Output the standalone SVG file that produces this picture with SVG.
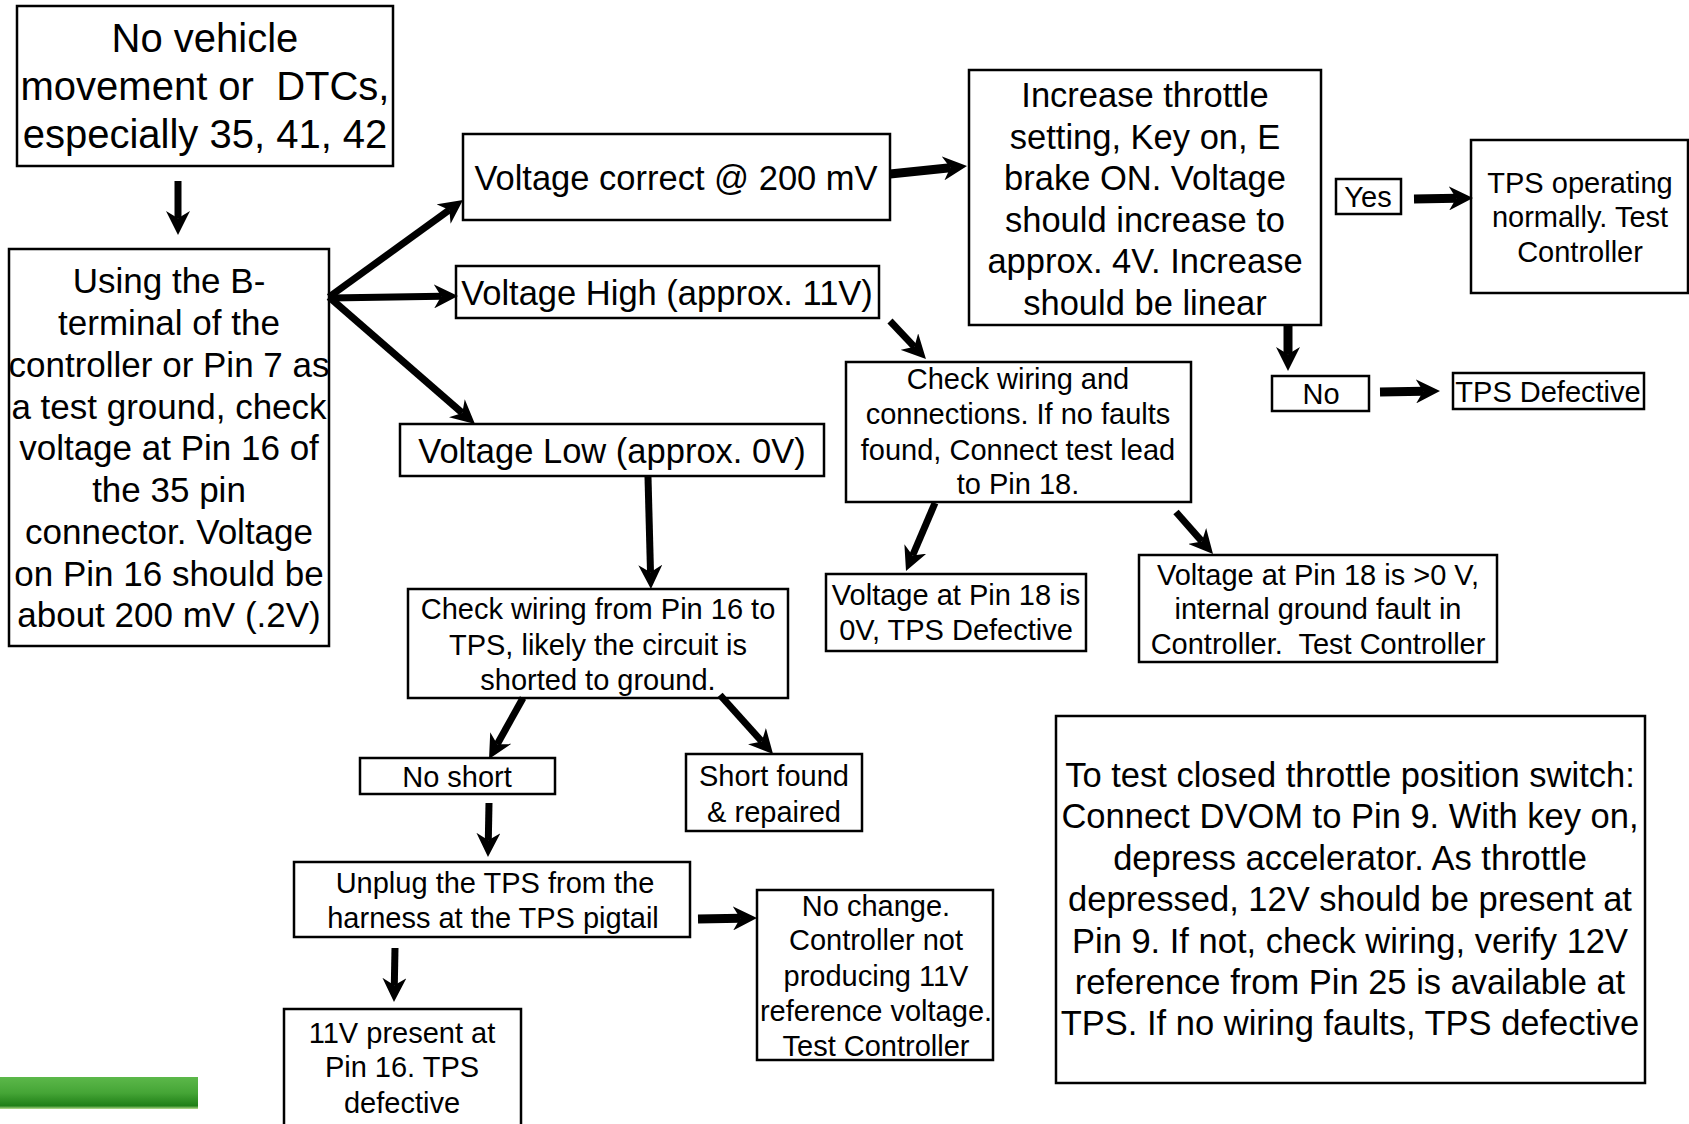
<svg xmlns="http://www.w3.org/2000/svg" width="1689" height="1124" viewBox="0 0 1689 1124">
<defs>
<style>
.box{fill:#fff;stroke:#000;stroke-width:2.5}
text{font-family:"Liberation Sans",Arial,sans-serif;fill:#000;text-anchor:middle;white-space:pre}
.f40{font-size:40px}.f35{font-size:35px}.f34{font-size:34.5px}.f29{font-size:29px}
.con line{stroke:#000;stroke-width:7;marker-end:url(#ah)}
.con line.thick{stroke-width:9}
</style>
<marker id="ah" viewBox="0 0 10 10" refX="3" refY="5" markerWidth="24" markerHeight="24" markerUnits="userSpaceOnUse" orient="auto">
<path d="M0,0 L10,5 L0,10 L3,5 z" fill="#000"/>
</marker>
<linearGradient id="grn" x1="0" y1="0" x2="0" y2="1">
<stop offset="0" stop-color="#5cb84a"/>
<stop offset="0.5" stop-color="#45a536"/>
<stop offset="0.9" stop-color="#1f7f17"/>
<stop offset="1" stop-color="#b8dd90"/>
</linearGradient>
</defs>
<rect width="1689" height="1124" fill="#fff"/>
<rect x="0" y="1077" width="198" height="32" fill="url(#grn)"/>

<g id="n-start"><rect class="box" x="17" y="6" width="376" height="160"/>
<text class="f40"><tspan x="205" y="52">No vehicle</tspan><tspan x="205" y="100">movement or  DTCs,</tspan><tspan x="205" y="148">especially 35, 41, 42</tspan></text></g>

<g id="n-using"><rect class="box" x="9" y="249" width="320" height="397"/>
<text class="f35"><tspan x="169" y="293">Using the B-</tspan><tspan x="169" y="335">terminal of the</tspan><tspan x="169" y="377">controller or Pin 7 as</tspan><tspan x="169" y="419">a test ground, check</tspan><tspan x="169" y="460">voltage at Pin 16 of</tspan><tspan x="169" y="502">the 35 pin</tspan><tspan x="169" y="544">connector. Voltage</tspan><tspan x="169" y="586">on Pin 16 should be</tspan><tspan x="169" y="627">about 200 mV (.2V)</tspan></text></g>

<g id="n-correct"><rect class="box" x="463" y="134" width="427" height="86"/>
<text class="f34" x="676" y="190">Voltage correct @ 200 mV</text></g>

<g id="n-high"><rect class="box" x="456" y="266" width="423" height="52"/>
<text class="f34" x="667" y="305">Voltage High (approx. 11V)</text></g>

<g id="n-low"><rect class="box" x="400" y="424" width="424" height="52"/>
<text class="f34" x="612" y="463">Voltage Low (approx. 0V)</text></g>

<g id="n-increase"><rect class="box" x="969" y="70" width="352" height="255"/>
<text class="f34"><tspan x="1145" y="107">Increase throttle</tspan><tspan x="1145" y="149">setting, Key on, E</tspan><tspan x="1145" y="190">brake ON. Voltage</tspan><tspan x="1145" y="232">should increase to</tspan><tspan x="1145" y="273">approx. 4V. Increase</tspan><tspan x="1145" y="315">should be linear</tspan></text></g>

<g id="n-yes"><rect class="box" x="1336" y="179" width="65" height="35"/>
<text class="f29" x="1368" y="207">Yes</text></g>

<g id="n-tpsok"><rect class="box" x="1471" y="140" width="217" height="153"/>
<text class="f29"><tspan x="1580" y="193">TPS operating</tspan><tspan x="1580" y="227">normally. Test</tspan><tspan x="1580" y="262">Controller</tspan></text></g>

<g id="n-no"><rect class="box" x="1272" y="376" width="97" height="35"/>
<text class="f29" x="1321" y="404">No</text></g>

<g id="n-tpsdef"><rect class="box" x="1453" y="373" width="191" height="36"/>
<text class="f29" x="1548" y="402">TPS Defective</text></g>

<g id="n-checkwiring"><rect class="box" x="846" y="362" width="345" height="140"/>
<text class="f29"><tspan x="1018" y="389">Check wiring and</tspan><tspan x="1018" y="424">connections. If no faults</tspan><tspan x="1018" y="460">found, Connect test lead</tspan><tspan x="1018" y="494">to Pin 18.</tspan></text></g>

<g id="n-pin18zero"><rect class="box" x="826" y="574" width="260" height="77"/>
<text class="f29"><tspan x="956" y="605">Voltage at Pin 18 is</tspan><tspan x="956" y="640">0V, TPS Defective</tspan></text></g>

<g id="n-pin18pos"><rect class="box" x="1139" y="555" width="358" height="107"/>
<text class="f29"><tspan x="1318" y="585">Voltage at Pin 18 is &gt;0 V,</tspan><tspan x="1318" y="619">internal ground fault in</tspan><tspan x="1318" y="654">Controller.  Test Controller</tspan></text></g>

<g id="n-checkpin16"><rect class="box" x="408" y="589" width="380" height="109"/>
<text class="f29"><tspan x="598" y="619">Check wiring from Pin 16 to</tspan><tspan x="598" y="655">TPS, likely the circuit is</tspan><tspan x="598" y="690">shorted to ground.</tspan></text></g>

<g id="n-noshort"><rect class="box" x="360" y="758" width="195" height="36"/>
<text class="f29" x="457" y="787">No short</text></g>

<g id="n-shortfound"><rect class="box" x="686" y="754" width="176" height="77"/>
<text class="f29"><tspan x="774" y="786">Short found</tspan><tspan x="774" y="822">&amp; repaired</tspan></text></g>

<g id="n-unplug"><rect class="box" x="294" y="862" width="396" height="75"/>
<text class="f29"><tspan x="495" y="893">Unplug the TPS from the</tspan><tspan x="493" y="928">harness at the TPS pigtail</tspan></text></g>

<g id="n-nochange"><rect class="box" x="757" y="890" width="236" height="170"/>
<text class="f29"><tspan x="876" y="916">No change.</tspan><tspan x="876" y="950">Controller not</tspan><tspan x="876" y="986">producing 11V</tspan><tspan x="876" y="1021">reference voltage.</tspan><tspan x="876" y="1056">Test Controller</tspan></text></g>

<g id="n-11v"><rect class="box" x="284" y="1009" width="237" height="130"/>
<text class="f29"><tspan x="402" y="1043">11V present at</tspan><tspan x="402" y="1077">Pin 16. TPS</tspan><tspan x="402" y="1113">defective</tspan></text></g>

<g id="n-closedthrottle"><rect class="box" x="1056" y="716" width="589" height="367"/>
<text class="f34"><tspan x="1350" y="787">To test closed throttle position switch:</tspan><tspan x="1350" y="828">Connect DVOM to Pin 9. With key on,</tspan><tspan x="1350" y="870">depress accelerator. As throttle</tspan><tspan x="1350" y="911">depressed, 12V should be present at</tspan><tspan x="1350" y="953">Pin 9. If not, check wiring, verify 12V</tspan><tspan x="1350" y="994">reference from Pin 25 is available at</tspan><tspan x="1350" y="1035">TPS. If no wiring faults, TPS defective</tspan></text></g>

<g id="connectors" class="con">
<line x1="178" y1="181" x2="178" y2="218.2"/>
<line x1="329" y1="297" x2="449.4" y2="209.9"/>
<line x1="330" y1="298" x2="441.2" y2="296.3"/>
<line x1="329" y1="297" x2="462.3" y2="413"/>
<line class="thick" x1="890" y1="174" x2="950.3" y2="167.7"/>
<line x1="890" y1="321" x2="914.4" y2="346.8"/>
<line x1="648" y1="477" x2="650.5" y2="572.2"/>
<line class="thick" x1="1288" y1="325" x2="1288" y2="354.2"/>
<line class="thick" x1="1414" y1="199" x2="1456.2" y2="198.3"/>
<line class="thick" x1="1380" y1="392" x2="1423.2" y2="391.3"/>
<line x1="935" y1="503" x2="912.6" y2="555.5"/>
<line x1="1176" y1="512" x2="1201.9" y2="541.4"/>
<line x1="523" y1="698" x2="497.2" y2="744.3"/>
<line x1="720" y1="695" x2="761.8" y2="741.5"/>
<line x1="489" y1="803" x2="488.3" y2="840.2"/>
<line class="thick" x1="698" y1="919" x2="740.2" y2="918.3"/>
<line x1="395" y1="948" x2="394.3" y2="985.2"/>
</g>
</svg>
